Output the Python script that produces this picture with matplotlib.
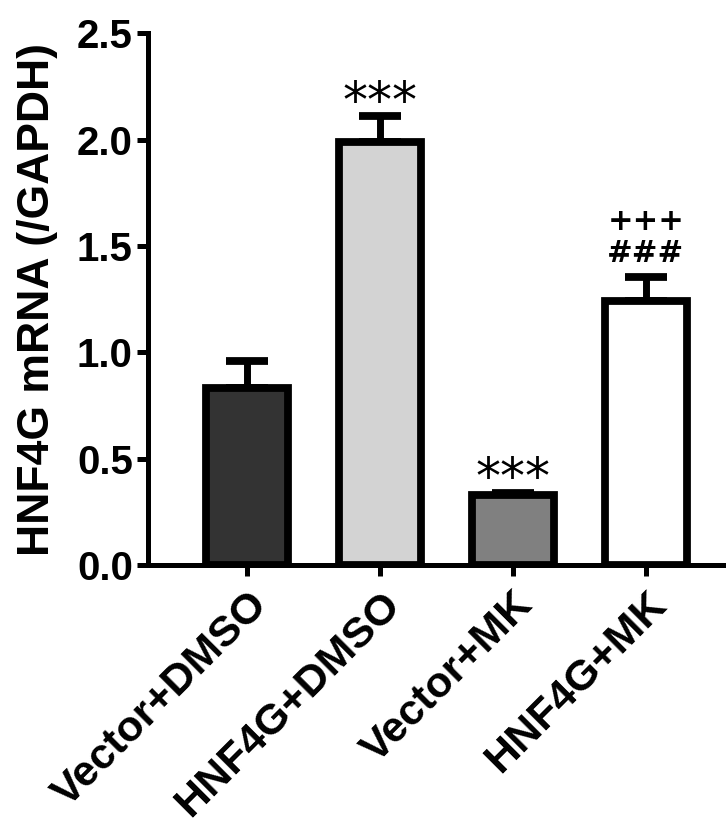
import numpy as np
import matplotlib.pyplot as plt

groups = ["Vector+DMSO", "HNF4G+DMSO", "Vector+MK", "HNF4G+MK"]
means = [0.83, 1.99, 0.33, 1.24]
errors = [0.13, 0.12, 0.01, 0.115]
colors = ["#333333", "#d3d3d3", "#808080", "#ffffff"]
marks = ["", "***", "***", "###"]
marks2 = ["", "", "", "+++"]

plt.rcParams['font.family'] = ['Liberation Sans', 'DejaVu Sans']
plt.rcParams['font.weight'] = 'bold'

fig = plt.figure(figsize=(7.26, 8.23), dpi=100)
ax = fig.add_axes([0.204, 0.3135, 0.796, 0.646])

x = np.arange(len(groups))
lw = 5.6
ax.bar(x, means, width=0.61, color=colors, edgecolor='black', linewidth=lw, zorder=2)
ax.errorbar(x, means, yerr=[np.zeros(len(errors)), errors], fmt='none', ecolor='black',
            elinewidth=5, capsize=15, capthick=lw, zorder=1)

for i in range(len(groups)):
    top = means[i] + errors[i]
    if marks[i] == "***":
        ax.text(x[i], top - 0.05, marks[i], ha='center', va='bottom', fontsize=36,
                fontweight='normal', family='DejaVu Sans')
    elif marks[i]:
        ax.text(x[i], top + 0.04, marks[i], ha='center', va='bottom', fontsize=22,
                fontweight='bold', family='DejaVu Sans')
    if marks2[i]:
        ax.text(x[i], top + 0.19, marks2[i], ha='center', va='bottom', fontsize=22,
                fontweight='bold', family='DejaVu Sans')

ax.set_xlim(-0.744, 3.602)
ax.set_ylim(0, 2.5)
ax.set_yticks([0.0, 0.5, 1.0, 1.5, 2.0, 2.5])
ax.set_yticklabels(["0.0", "0.5", "1.0", "1.5", "2.0", "2.5"], fontsize=29, fontweight='bold')
ax.set_xticks(x)
ax.set_xticklabels(groups, rotation=45, ha='right', rotation_mode='anchor', fontsize=31,
                   fontweight='bold')
ax.set_ylabel("HNF4G mRNA (/GAPDH)", fontsize=32, fontweight='bold', labelpad=14)

for s in ['top', 'right']:
    ax.spines[s].set_visible(False)
for s in ['left', 'bottom']:
    ax.spines[s].set_linewidth(3.6)
ax.tick_params(axis='both', width=3.6, length=8)
ax.tick_params(axis='x', pad=6)
ax.tick_params(axis='y', pad=3)
for lab in ax.get_xticklabels():
    lab.set_x(lab.get_position()[0])

fig.savefig("out.png", dpi=100)
